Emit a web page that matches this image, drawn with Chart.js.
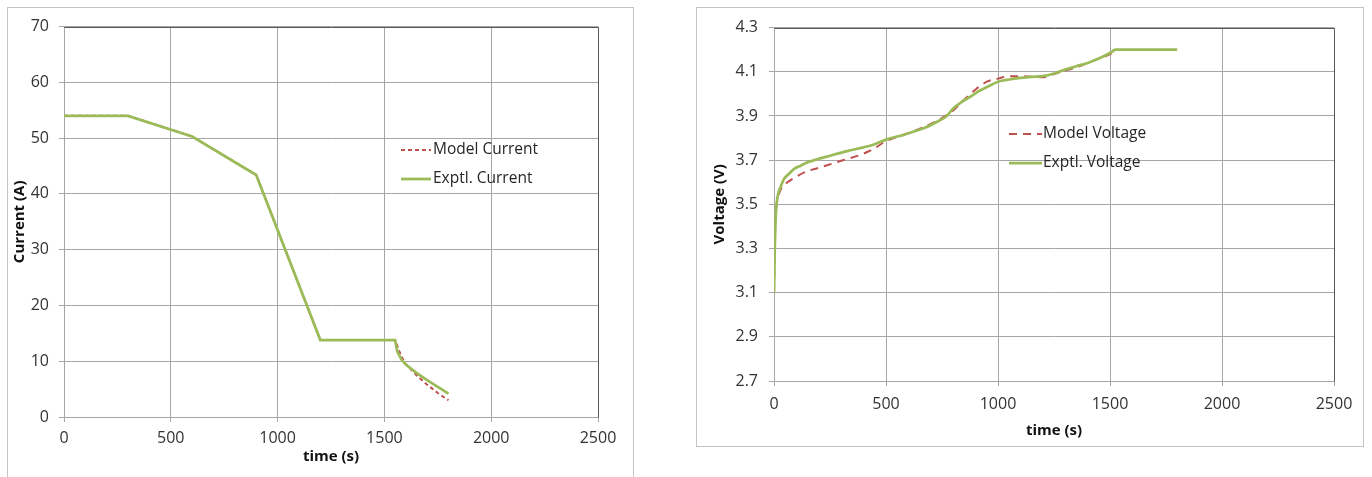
<!DOCTYPE html>
<html>
<head>
<meta charset="utf-8">
<script src="https://cdn.jsdelivr.net/npm/chart.js@4.4.1/dist/chart.umd.min.js"></script>
<style>
  html, body { margin: 0; padding: 0; background: #fff; width: 1372px; height: 477px; overflow: hidden; position: relative; }
  .box { position: absolute; border: 1px solid #c4c4c4; box-sizing: border-box; }
  canvas { position: absolute; }
</style>
</head>
<body>
<div class="box" style="left:7px;top:7px;width:627px;height:490px;"></div>
<div class="box" style="left:696px;top:7px;width:668px;height:440px;"></div>
<canvas id="cur" width="626" height="470" style="left:7px;top:7px;width:626px;height:470px;"></canvas>
<canvas id="vol" width="667" height="439" style="left:696px;top:7px;width:667px;height:439px;"></canvas>
<script>
// ---------- data ----------
const timeTicks = [0, 500, 1000, 1500, 2000, 2500];
const currentTicks = [0, 10, 20, 30, 40, 50, 60, 70];
const voltageTicks = [2.7, 2.9, 3.1, 3.3, 3.5, 3.7, 3.9, 4.1, 4.3];

const currentModelTime  = [0, 300, 600, 900, 1200, 1550, 1560, 1580, 1600, 1650, 1700, 1750, 1800];
const currentModelAmps  = [54, 54, 50.3, 43.4, 13.8, 13.8, 12.8, 10.8, 9.5, 7.5, 5.8, 4.3, 3.0];
const currentExptlTime  = [0, 300, 600, 900, 1200, 1550, 1560, 1580, 1600, 1650, 1700, 1750, 1800];
const currentExptlAmps  = [54, 54, 50.3, 43.4, 13.8, 13.8, 11.8, 10.3, 9.4, 7.9, 6.6, 5.4, 4.2];

const voltageModelTime  = [0, 3, 6, 10, 15, 25, 37, 60, 90, 149, 200, 253, 300, 372, 440, 500, 580, 670, 740, 800, 850, 900, 950, 1000, 1050, 1100, 1150, 1200, 1250, 1300, 1350, 1400, 1450, 1500, 1520];
const voltageModelVolts = [3.10, 3.30, 3.42, 3.48, 3.52, 3.555, 3.580, 3.600, 3.620, 3.650, 3.665, 3.682, 3.697, 3.719, 3.748, 3.786, 3.815, 3.850, 3.885, 3.925, 3.975, 4.020, 4.055, 4.069, 4.080, 4.080, 4.078, 4.075, 4.090, 4.105, 4.120, 4.140, 4.160, 4.180, 4.195];
const voltageExptlTime  = [0, 3, 6, 9, 12, 18, 30, 45, 67, 90, 119, 150, 193, 250, 327, 400, 446, 500, 580, 670, 730, 771, 800, 840, 875, 910, 949, 1000, 1050, 1100, 1150, 1200, 1250, 1300, 1350, 1400, 1450, 1500, 1525, 1800];
const voltageExptlVolts = [3.10, 3.28, 3.40, 3.47, 3.505, 3.545, 3.580, 3.615, 3.638, 3.660, 3.675, 3.690, 3.704, 3.720, 3.741, 3.758, 3.771, 3.793, 3.815, 3.845, 3.875, 3.900, 3.934, 3.965, 3.986, 4.010, 4.030, 4.055, 4.065, 4.072, 4.077, 4.080, 4.092, 4.110, 4.125, 4.140, 4.160, 4.185, 4.200, 4.200];

// ---------- helpers ----------
const pts = (xs, ys) => xs.map((x, i) => ({ x: x, y: ys[i] }));
const FONT = "'Open Sans', 'Liberation Sans', sans-serif";
const MODEL_COLOR = '#C0504D';
const EXPTL_COLOR = '#9BBB59';
const GRID = '#a6a6a6';

const frameAndLegend = {
  id: 'frameAndLegend',
  afterDraw(chart, args, opts) {
    const ctx = chart.ctx, a = chart.chartArea;
    ctx.save();
    ctx.strokeStyle = '#595959';
    ctx.lineWidth = 1;
    ctx.beginPath();
    ctx.moveTo(Math.round(a.left) + 0.5, Math.round(a.top) + 0.5);
    ctx.lineTo(Math.round(a.right) + 0.5, Math.round(a.top) + 0.5);
    ctx.lineTo(Math.round(a.right) + 0.5, Math.round(a.bottom) + 0.5);
    ctx.stroke();
    // legend
    ctx.font = '15.5px ' + FONT;
    ctx.textBaseline = 'middle';
    ctx.fillStyle = '#262626';
    chart.data.datasets.forEach((ds, i) => {
      const y = opts.y + i * opts.gap;
      ctx.beginPath();
      ctx.strokeStyle = ds.borderColor;
      ctx.lineWidth = ds.borderWidth;
      ctx.setLineDash(ds.borderDash || []);
      ctx.moveTo(opts.x, y);
      ctx.lineTo(opts.x + opts.len, y);
      ctx.stroke();
      ctx.setLineDash([]);
      ctx.fillText(ds.label, opts.x + opts.len + opts.textGap, y);
    });
    ctx.restore();
  }
};

function makeScales(yTicks, yMin, yMax, yTitle, dims) {
  return {
    x: {
      type: 'linear', min: 0, max: 2500,
      afterBuildTicks: s => { s.ticks = timeTicks.map(v => ({ value: v })); },
      afterFit: s => { s.height = dims.xHeight; },
      grid: { color: GRID, lineWidth: 1, tickLength: 5, tickColor: GRID },
      border: { display: true, color: GRID },
      ticks: { color: '#333', font: { family: FONT, size: 16 }, padding: dims.xTickPad, maxRotation: 0, autoSkip: false,
               callback: v => String(v) },
      title: { display: true, text: 'time (s)', color: '#111', font: { family: FONT, size: 15, weight: 'bold' }, padding: { top: 0, bottom: dims.xTitlePad } }
    },
    y: {
      type: 'linear', min: yMin, max: yMax,
      afterBuildTicks: s => { s.ticks = yTicks.map(v => ({ value: v })); },
      afterFit: s => { s.width = dims.yWidth; },
      grid: { color: GRID, lineWidth: 1, tickLength: 5, tickColor: GRID },
      border: { display: true, color: GRID },
      ticks: { color: '#333', font: { family: FONT, size: 16 }, padding: dims.yTickPad, autoSkip: false,
               callback: v => dims.fmt(v) },
      title: { display: true, text: yTitle, color: '#111', font: { family: FONT, size: 15, weight: 'bold' }, padding: { top: dims.yTitlePad, bottom: 0 } }
    }
  };
}

Chart.defaults.animation = false;

new Chart(document.getElementById('cur'), {
  type: 'line',
  data: {
    datasets: [
      { label: 'Model Current', data: pts(currentModelTime, currentModelAmps), borderColor: MODEL_COLOR, borderWidth: 2, borderDash: [4, 3], pointRadius: 0, tension: 0, order: 1 },
      { label: 'Exptl. Current', data: pts(currentExptlTime, currentExptlAmps), borderColor: EXPTL_COLOR, borderWidth: 2.75, pointRadius: 0, tension: 0, order: 0 }
    ]
  },
  options: {
    responsive: false, animation: false,
    layout: { padding: { left: 0, top: 13, right: 35, bottom: 0 } },
    plugins: { legend: { display: false }, tooltip: { enabled: false },
               frameAndLegend: { x: 394, y: 143, gap: 29, len: 30, textGap: 2 } },
    scales: makeScales(currentTicks, 0, 70, 'Current (A)', {
      xHeight: 60, xTickPad: 7, xTitlePad: 11, yWidth: 57, yTickPad: 10, yTitlePad: 4, fmt: v => String(v)
    })
  },
  plugins: [frameAndLegend]
});

new Chart(document.getElementById('vol'), {
  type: 'line',
  data: {
    datasets: [
      { label: 'Model Voltage', data: pts(voltageModelTime, voltageModelVolts), borderColor: MODEL_COLOR, borderWidth: 2, borderDash: [8, 6], pointRadius: 0, cubicInterpolationMode: 'monotone', order: 1 },
      { label: 'Exptl. Voltage', data: pts(voltageExptlTime, voltageExptlVolts), borderColor: EXPTL_COLOR, borderWidth: 2.75, pointRadius: 0, cubicInterpolationMode: 'monotone', order: 0 }
    ]
  },
  options: {
    responsive: false, animation: false,
    layout: { padding: { left: 0, top: 14, right: 29, bottom: 0 } },
    plugins: { legend: { display: false }, tooltip: { enabled: false },
               frameAndLegend: { x: 313, y: 127, gap: 29, len: 33, textGap: 1 } },
    scales: makeScales(voltageTicks, 2.7, 4.3, 'Voltage (V)', {
      xHeight: 65, xTickPad: 9, xTitlePad: 6, yWidth: 78, yTickPad: 11, yTitlePad: 15, fmt: v => Number(v).toFixed(1)
    })
  },
  plugins: [frameAndLegend]
});
</script>
</body>
</html>
